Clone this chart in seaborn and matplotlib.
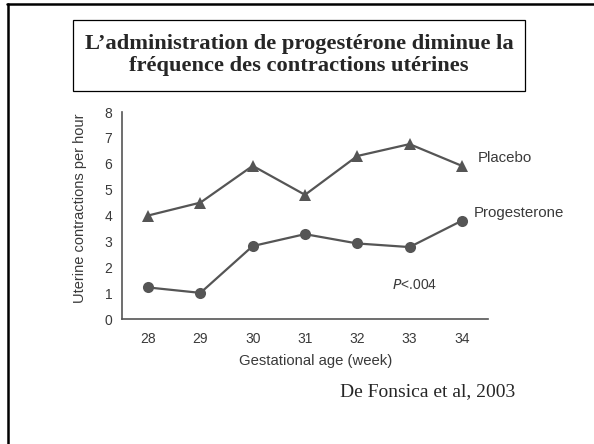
import matplotlib
matplotlib.use("Agg")
import matplotlib.pyplot as plt
from matplotlib.lines import Line2D
from matplotlib.patches import Rectangle
import numpy as np
import pandas as pd
import seaborn as sns

#%% Data
weeks = [28, 29, 30, 31, 32, 33, 34]
placebo = [4.0, 4.5, 5.92, 4.8, 6.3, 6.76, 5.92]
progesterone = [1.22, 1.01, 2.82, 3.28, 2.92, 2.78, 3.8]
y_ticks = [0, 1, 2, 3, 4, 5, 6, 7, 8]

data = pd.DataFrame({
    "week": weeks * 2,
    "rate": placebo + progesterone,
    "group": ["Placebo"] * len(weeks) + ["Progesterone"] * len(weeks),
})

#%% Figure
sns.set_style("white")
plt.rcParams["font.family"] = ["Liberation Sans", "DejaVu Sans"]

grey = "#555555"
text_grey = "#3a3a3a"

fig = plt.figure(figsize=(5.94, 4.44), dpi=100)
ax = fig.add_axes([0.2054, 0.2815, 0.6161, 0.4662])

sns.lineplot(data=data, x="week", y="rate", hue="group", style="group",
             markers={"Placebo": "^", "Progesterone": "o"}, dashes=False,
             palette={"Placebo": grey, "Progesterone": grey},
             markersize=8, markeredgewidth=0, linewidth=1.6, legend=False, ax=ax)

ax.set_xlim(27.5, 34.5)
ax.set_ylim(0, 8)
ax.set_yticks(y_ticks)
ax.set_xticks(weeks)
ax.set_xticks(np.arange(27.5, 35, 1), minor=True)
ax.tick_params(axis="x", which="major", length=0, pad=9, labelsize=10, labelcolor=text_grey)
ax.tick_params(axis="x", which="minor", length=4, width=1, color=grey, direction="out")
ax.tick_params(axis="y", length=4, width=1, color=grey, direction="out", labelsize=10,
               labelcolor=text_grey, pad=3)

for side in ["top", "right"]:
    ax.spines[side].set_visible(False)
for side in ["left", "bottom"]:
    ax.spines[side].set_color(grey)
    ax.spines[side].set_linewidth(1.2)

ax.set_xlabel("Gestational age (week)", fontsize=10.7, color=text_grey)
ax.xaxis.set_label_coords(0.53, -0.17)
ax.set_ylabel("Uterine contractions per hour", fontsize=10.5, color=text_grey)
ax.yaxis.set_label_coords(-0.096, 0.535)

ax.text(34.3, placebo[-1] + 0.3, "Placebo", fontsize=10.8, color=text_grey, va="center")
ax.text(34.22, progesterone[-1] + 0.3, "Progesterone", fontsize=10.8, color=text_grey, va="center")
ax.text(33.1, 1.3, r"$\it{P}$<.004", fontsize=10, color=text_grey, ha="center", va="center")

#%% Slide decorations
fig.add_artist(Line2D([7 / 594, 1], [1 - 4.5 / 444, 1 - 4.5 / 444], color="black", linewidth=1.8))
fig.add_artist(Line2D([8 / 594, 8 / 594], [0, 1 - 4.5 / 444], color="black", linewidth=1.8))
fig.add_artist(Rectangle((73 / 594, 1 - 91 / 444), 452 / 594, 71 / 444, transform=fig.transFigure,
                         fill=False, edgecolor="black", linewidth=0.9))

fig.text(299 / 594, 1 - 55 / 444,
         "L\u2019administration de progestérone diminue la\nfréquence des contractions utérines",
         family=["Liberation Serif", "DejaVu Serif"], fontweight="bold", fontsize=16.2,
         ha="center", va="center", linespacing=1.12)
fig.text(340 / 594, 1 - 392 / 444, "De Fonsica et al, 2003",
         family=["Liberation Serif", "DejaVu Serif"], fontsize=14, ha="left", va="center")

fig.savefig("out.png", dpi=100)
